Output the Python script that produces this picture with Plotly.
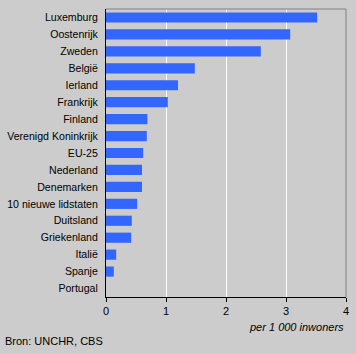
import plotly.graph_objects as go

categories = ["Luxemburg", "Oostenrijk", "Zweden", "België", "Ierland", "Frankrijk",
              "Finland", "Verenigd Koninkrijk", "EU-25", "Nederland", "Denemarken",
              "10 nieuwe lidstaten", "Duitsland", "Griekenland", "Italië", "Spanje", "Portugal"]
values = [3.52, 3.07, 2.58, 1.48, 1.20, 1.03, 0.69, 0.68, 0.62, 0.60, 0.60,
          0.52, 0.43, 0.42, 0.17, 0.13, 0.0]
x_ticks = [0, 1, 2, 3, 4]

font = "Liberation Sans, Arial, sans-serif"
bg = "#cccccc"

fig = go.Figure(go.Bar(
    x=values, y=categories, orientation="h",
    marker=dict(color="#3366ff", line=dict(width=0)),
    width=0.6,
))

fig.update_layout(
    width=356, height=354,
    margin=dict(l=106, r=10, t=9, b=57),
    paper_bgcolor=bg, plot_bgcolor=bg,
    font=dict(family=font, size=11, color="#000000"),
    showlegend=False,
    xaxis=dict(range=[0, 4], tickvals=x_ticks, showgrid=True, gridcolor="#ffffff",
               gridwidth=1, zeroline=False, showline=True, linecolor="#000000",
               linewidth=1, ticks="outside", ticklen=4, tickcolor="#000000",
               tickfont=dict(size=11), automargin=False),
    yaxis=dict(autorange="reversed", showgrid=False, zeroline=False, showline=True,
               linecolor="#000000", linewidth=1, ticks="", ticklabelstandoff=5,
               tickfont=dict(size=10.6), automargin=False),
    shapes=[
        dict(type="line", xref="paper", yref="paper", x0=0, x1=1, y0=1, y1=1,
             line=dict(color="#808080", width=1)),
        dict(type="line", xref="paper", yref="paper", x0=1, x1=1, y0=0, y1=1,
             line=dict(color="#808080", width=1)),
    ],
    annotations=[
        dict(text="<i>per 1 000 inwoners</i>", xref="paper", yref="paper", x=1, y=0,
             xanchor="right", yanchor="middle", yshift=-30, showarrow=False,
             font=dict(size=11)),
        dict(text="Bron: UNCHR, CBS", xref="paper", yref="paper", x=0, y=0,
             xanchor="left", yanchor="middle", xshift=-103, yshift=-44, showarrow=False,
             font=dict(size=11)),
    ],
)

fig.write_html("out.html")
